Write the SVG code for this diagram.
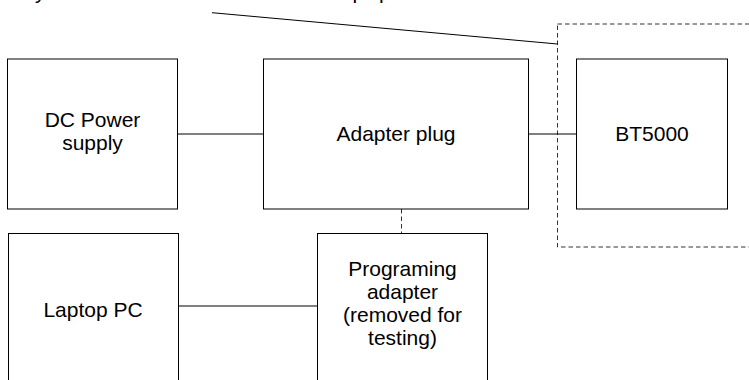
<svg xmlns="http://www.w3.org/2000/svg" width="749" height="380" viewBox="0 0 749 380">
<style>
.box{fill:#fff;stroke:#000;stroke-width:1}
.lbl{font-family:"Liberation Sans",Arial,sans-serif;font-size:21px;fill:#000;text-anchor:middle}
.frag{font-family:"Liberation Sans",Arial,sans-serif;font-size:21px;fill:#000}
.con{stroke:#000;stroke-width:1;fill:none}
.dash{stroke:#333;stroke-width:1;fill:none;stroke-dasharray:4.5,3}
</style>
<rect width="749" height="380" fill="#fff"/>
<g id="top-text-fragments">
<text class="frag" x="35" y="-1.5">y</text>
<text class="frag" x="352.5" y="-1.5">p</text>
<text class="frag" x="379" y="-1.5">p</text>
</g>
<g id="group-boundary">
<rect class="dash" x="557.5" y="24" width="230" height="223"/>
</g>
<g id="connectors">
<line class="con" x1="212" y1="12.7" x2="557.5" y2="44"/>
<line class="con" x1="177.5" y1="134" x2="263.5" y2="134"/>
<line class="con" x1="528.5" y1="134" x2="576.5" y2="134"/>
<line class="con" x1="178.5" y1="306" x2="317.5" y2="306"/>
<line class="dash" x1="401.5" y1="209" x2="401.5" y2="233.5"/>
</g>
<g id="dc-power-supply">
<rect class="box" x="7.5" y="59" width="170" height="150"/>
<text class="lbl" x="92.5" y="127">DC Power</text>
<text class="lbl" x="92.5" y="150">supply</text>
</g>
<g id="adapter-plug">
<rect class="box" x="263.5" y="59" width="265" height="150"/>
<text class="lbl" x="396" y="141">Adapter plug</text>
</g>
<g id="bt5000">
<rect class="box" x="576.5" y="59" width="151" height="150"/>
<text class="lbl" x="652" y="141">BT5000</text>
</g>
<g id="laptop-pc">
<rect class="box" x="8.5" y="233.5" width="170" height="200"/>
<text class="lbl" x="93" y="317">Laptop PC</text>
</g>
<g id="programing-adapter">
<rect class="box" x="317.5" y="233.5" width="170" height="200"/>
<text class="lbl" x="402.5" y="276">Programing</text>
<text class="lbl" x="402.5" y="299">adapter</text>
<text class="lbl" x="402.5" y="322">(removed for</text>
<text class="lbl" x="402.5" y="345">testing)</text>
</g>
</svg>
